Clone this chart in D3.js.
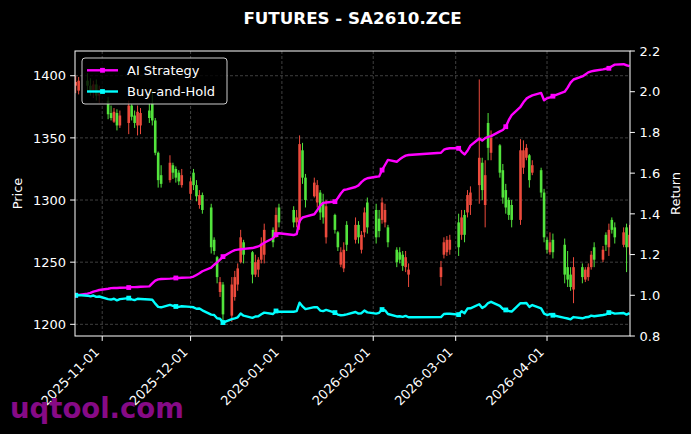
<!DOCTYPE html>
<html><head><meta charset="utf-8">
<script src="https://cdn.jsdelivr.net/npm/d3@7"></script>
<style>body{margin:0;background:#000}svg{display:block}text{font-family:"DejaVu Sans",sans-serif}</style>
</head><body><svg id="c" width="691" height="434"></svg>
<script>
const dates = ["2025-10-23","2025-10-24","2025-10-27","2025-10-28","2025-10-29","2025-10-30","2025-10-31","2025-11-03","2025-11-04","2025-11-05","2025-11-06","2025-11-07","2025-11-10","2025-11-11","2025-11-12","2025-11-13","2025-11-14","2025-11-17","2025-11-18","2025-11-19","2025-11-20","2025-11-21","2025-11-24","2025-11-25","2025-11-26","2025-11-27","2025-11-28","2025-12-01","2025-12-02","2025-12-03","2025-12-04","2025-12-05","2025-12-08","2025-12-09","2025-12-10","2025-12-11","2025-12-12","2025-12-15","2025-12-16","2025-12-17","2025-12-18","2025-12-19","2025-12-22","2025-12-23","2025-12-24","2025-12-25","2025-12-26","2025-12-29","2025-12-30","2025-12-31","2026-01-05","2026-01-06","2026-01-07","2026-01-08","2026-01-09","2026-01-12","2026-01-13","2026-01-14","2026-01-15","2026-01-16","2026-01-19","2026-01-20","2026-01-21","2026-01-22","2026-01-23","2026-01-26","2026-01-27","2026-01-28","2026-01-29","2026-01-30","2026-02-02","2026-02-03","2026-02-04","2026-02-05","2026-02-06","2026-02-09","2026-02-10","2026-02-11","2026-02-12","2026-02-13","2026-02-24","2026-02-25","2026-02-26","2026-02-27","2026-03-02","2026-03-03","2026-03-04","2026-03-05","2026-03-06","2026-03-09","2026-03-10","2026-03-11","2026-03-12","2026-03-13","2026-03-16","2026-03-17","2026-03-18","2026-03-19","2026-03-20","2026-03-23","2026-03-24","2026-03-25","2026-03-26","2026-03-27","2026-03-30","2026-03-31","2026-04-01","2026-04-02","2026-04-03","2026-04-07","2026-04-08","2026-04-09","2026-04-10","2026-04-13","2026-04-14","2026-04-15","2026-04-16","2026-04-17","2026-04-20","2026-04-21","2026-04-22","2026-04-23","2026-04-24","2026-04-27","2026-04-28","2026-04-29"];

const open = [1392,1388,1396,1392,1388,1393,1384,
1380,1370,1363,1370,1360,1362,1376,1368,1360,1360,1372,1378,1364,1338,1320,1316,1328,1325,1322,1312,
1305,1322,1312,1296,1304,1294,1268,1254,1226,1232,1207,1222,1232,1250,1266,1258,1240,1244,1252,1256,1276,1270,1294,
1292,1282,1282,1340,1318,1303,1298,1306,1298,1270,1288,1274,1248,1245,1280,1268,1280,1260,1274,1298,
1292,1285,1284,1282,1278,1260,1258,1256,1246,1240,1238,1256,1258,1260,
1282,1272,1288,1290,1296,1312,1330,1296,1362,1338,1344,1324,1308,1300,1296,1284,1326,1334,1336,1322,1324,1306,
1268,1258,1268,1264,1246,1240,1228,1246,1236,1238,1246,1262,1252,1272,1262,1284,1278,1264,1278,1262];

const high = [1400,1399,1402,1398,1396,1397,1392,
1383,1376,1374,1373,1372,1380,1377,1372,1376,1374,1378,1388,1366,1339,1328,1336,1330,1327,1324,1325,
1318,1325,1316,1308,1306,1297,1270,1255,1238,1234,1238,1243,1249,1276,1268,1259,1256,1254,1270,1281,1278,1294,1297,
1295,1292,1352,1346,1321,1318,1316,1308,1305,1300,1289,1275,1262,1266,1283,1286,1283,1275,1294,1302,
1297,1292,1302,1297,1280,1262,1262,1259,1259,1249,1251,1270,1271,1272,
1289,1292,1292,1308,1311,1397,1334,1332,1370,1356,1345,1329,1313,1302,1300,1349,1348,1345,1337,1332,1326,1309,
1270,1274,1273,1269,1259,1246,1254,1249,1246,1249,1259,1266,1263,1274,1281,1286,1282,1278,1281,1280];

const low = [1386,1385,1388,1384,1382,1380,1378,
1365,1364,1362,1356,1358,1353,1364,1358,1352,1353,1362,1360,1336,1310,1310,1314,1317,1314,1312,1310,
1300,1308,1299,1293,1289,1257,1256,1233,1222,1202,1202,1219,1227,1249,1249,1233,1238,1238,1249,1249,1262,1270,1278,
1278,1278,1276,1313,1294,1302,1294,1284,1281,1265,1273,1259,1246,1242,1259,1265,1265,1257,1270,1273,
1265,1270,1281,1278,1262,1246,1249,1243,1242,1230,1231,1253,1255,1256,
1255,1268,1266,1286,1288,1297,1300,1278,1332,1332,1318,1297,1289,1284,1278,1280,1321,1332,1310,1320,1302,1266,
1257,1256,1253,1233,1230,1227,1217,1233,1234,1235,1244,1246,1250,1259,1255,1273,1265,1262,1242,1256];

const close = [1395,1396,1392,1388,1393,1384,1386,
1369,1366,1371,1360,1368,1376,1367,1362,1371,1370,1366,1364,1338,1316,1313,1330,1322,1318,1315,1320,
1315,1312,1303,1304,1292,1262,1259,1238,1234,1208,1232,1238,1245,1270,1256,1240,1250,1252,1265,1276,1266,1288,1282,
1282,1286,1345,1318,1300,1314,1312,1290,1286,1295,1276,1262,1258,1260,1264,1280,1270,1272,1290,1278,
1270,1275,1298,1292,1266,1250,1252,1247,1254,1244,1246,1266,1268,1268,
1262,1286,1272,1304,1306,1334,1308,1320,1342,1350,1322,1302,1294,1288,1284,1340,1340,1342,1316,1328,1306,1270,
1260,1266,1258,1240,1236,1230,1246,1238,1244,1246,1256,1252,1260,1264,1276,1276,1270,1274,1262,1272];

const aiStrategy = [1.000,1.002,1.008,1.012,1.018,1.022,1.026,
1.032,1.035,1.036,1.036,1.037,1.038,1.040,1.040,1.041,1.042,1.044,1.058,1.072,1.078,1.080,1.082,1.083,1.085,1.085,1.086,
1.088,1.092,1.100,1.108,1.118,1.136,1.150,1.162,1.175,1.190,1.215,1.222,1.224,1.226,1.228,1.232,1.236,1.240,1.248,1.258,1.280,1.298,1.305,
1.296,1.300,1.365,1.382,1.386,1.398,1.418,1.440,1.454,1.456,1.460,1.478,1.500,1.517,1.520,1.532,1.540,1.556,1.568,1.575,
1.582,1.584,1.615,1.640,1.665,1.656,1.668,1.678,1.686,1.689,1.700,1.715,1.720,1.722,
1.722,1.705,1.692,1.710,1.735,1.770,1.760,1.772,1.778,1.782,1.805,1.812,1.828,1.860,1.885,1.926,1.948,1.966,1.975,1.982,1.994,1.958,
1.968,1.972,1.978,2.000,2.020,2.045,2.060,2.075,2.085,2.095,2.100,2.103,2.110,2.113,2.115,2.125,2.133,2.135,2.130,2.126];

const buyHold = [1.000,1.001,0.998,0.995,0.999,0.992,0.994,
0.981,0.979,0.983,0.975,0.981,0.986,0.980,0.976,0.983,0.982,0.979,0.978,0.959,0.943,0.941,0.953,0.948,0.945,0.943,0.946,
0.943,0.941,0.934,0.935,0.926,0.905,0.903,0.887,0.885,0.866,0.883,0.887,0.892,0.910,0.900,0.889,0.896,0.897,0.907,0.915,0.908,0.923,0.919,
0.919,0.922,0.964,0.945,0.932,0.942,0.941,0.925,0.922,0.928,0.915,0.905,0.902,0.903,0.906,0.918,0.910,0.912,0.925,0.916,
0.910,0.914,0.930,0.926,0.908,0.896,0.897,0.894,0.899,0.892,0.893,0.908,0.909,0.909,
0.905,0.922,0.912,0.935,0.936,0.956,0.938,0.946,0.962,0.968,0.948,0.933,0.928,0.923,0.920,0.961,0.961,0.962,0.943,0.952,0.936,0.910,
0.903,0.908,0.902,0.889,0.886,0.882,0.893,0.887,0.892,0.893,0.900,0.897,0.903,0.906,0.915,0.915,0.910,0.913,0.905,0.912];

const priceTicks = [1200,1250,1300,1350,1400];
const returnTicks = [0.8,1.0,1.2,1.4,1.6,1.8,2.0,2.2];
const dateTicks = ["2025-11-01","2025-12-01","2026-01-01","2026-02-01","2026-03-01","2026-04-01"];
const seriesNames = ["AI Strategy","Buy-and-Hold"];
const title = "FUTURES - SA2610.ZCE";

const W=691,H=434, L=75, R=630, T=51, B=336;
const parse = d3.utcParse("%Y-%m-%d");
const dts = dates.map(parse);
const svg = d3.select("#c");
svg.append("rect").attr("width",W).attr("height",H).attr("fill","#000");

const x = d3.scaleUtc().domain([dts[0], dts[dts.length-1]]).range([75.7, 629.5]);
const yP = d3.scaleLinear().domain([1190.6,1419.9]).range([B,T]);
const yR = d3.scaleLinear().domain([0.8,2.2]).range([B,T]);

svg.append("defs").append("clipPath").attr("id","clip").append("rect")
  .attr("x",L).attr("y",T).attr("width",R-L).attr("height",B-T);

// grid
const grid = svg.append("g").attr("stroke","#5a5a5a").attr("stroke-width",0.7).attr("stroke-dasharray","3,2");
dateTicks.map(parse).forEach(d=>{
  grid.append("line").attr("x1",x(d)).attr("x2",x(d)).attr("y1",T).attr("y2",B);
});
priceTicks.forEach(p=>{
  grid.append("line").attr("x1",L).attr("x2",R).attr("y1",yP(p)).attr("y2",yP(p));
});

// candles
const UP="#ec4a3c", DN="#52e33c";
const cg = svg.append("g").attr("clip-path","url(#clip)");
dts.forEach((d,i)=>{
  const col = close[i]>=open[i]?UP:DN;
  const cx = x(d);
  cg.append("line").attr("x1",cx).attr("x2",cx).attr("y1",yP(high[i])).attr("y2",yP(low[i]))
    .attr("stroke",col).attr("stroke-width",1);
  const y1 = yP(Math.max(open[i],close[i])), y2 = yP(Math.min(open[i],close[i]));
  cg.append("rect").attr("x",cx-1.3).attr("width",2.6).attr("y",y1).attr("height",Math.max(1,y2-y1)).attr("fill",col);
});

// lines
const lg = svg.append("g").attr("clip-path","url(#clip)");
function drawSeries(vals,color){
  const line = d3.line().x((v,i)=>x(dts[i])).y(v=>yR(v));
  lg.append("path").datum(vals).attr("d",line).attr("fill","none").attr("stroke",color)
    .attr("stroke-width",2.4).attr("stroke-linejoin","round");
  vals.forEach((v,i)=>{
    if(i%12===0) lg.append("rect").attr("x",x(dts[i])-2.4).attr("y",yR(v)-2.4).attr("width",4.8).attr("height",4.8).attr("fill",color);
  });
}
drawSeries(aiStrategy,"#ff00ff");
drawSeries(buyHold,"#00ffff");

// frame
svg.append("rect").attr("x",L).attr("y",T).attr("width",R-L).attr("height",B-T)
  .attr("fill","none").attr("stroke","#fff").attr("stroke-width",1);

// axes
const fs=13;
const ax = svg.append("g").attr("fill","#fff").attr("font-size",fs);
priceTicks.forEach(p=>{
  svg.append("line").attr("x1",L-4.9).attr("x2",L).attr("y1",yP(p)).attr("y2",yP(p)).attr("stroke","#fff");
  ax.append("text").attr("x",L-9).attr("y",yP(p)).attr("dy","0.36em").attr("text-anchor","end").text(p);
});
returnTicks.forEach(r=>{
  svg.append("line").attr("x1",R).attr("x2",R+4.9).attr("y1",yR(r)).attr("y2",yR(r)).attr("stroke","#fff");
  ax.append("text").attr("x",R+9.5).attr("y",yR(r)).attr("dy","0.36em").attr("text-anchor","start").text(r.toFixed(1));
});
dateTicks.forEach(s=>{
  const px = x(parse(s));
  svg.append("line").attr("x1",px).attr("x2",px).attr("y1",B).attr("y2",B+4.9).attr("stroke","#fff");
  ax.append("text").attr("transform",`translate(${px-2.1},${352.8}) rotate(-45)`).attr("text-anchor","end").text(s);
});
ax.append("text").attr("transform",`translate(22,${(T+B)/2}) rotate(-90)`).attr("text-anchor","middle").text("Price");
ax.append("text").attr("transform",`translate(680,${(T+B)/2}) rotate(-90)`).attr("text-anchor","middle").text("Return");

// title
svg.append("text").attr("x",(L+R)/2).attr("y",24).attr("text-anchor","middle").attr("fill","#fff")
  .attr("font-size",16.7).attr("font-weight","bold").text(title);

// legend
const leg = svg.append("g");
leg.append("rect").attr("x",82).attr("y",58).attr("width",145).attr("height",46).attr("rx",3)
  .attr("fill","#000").attr("fill-opacity",0.8).attr("stroke","#cccccc").attr("stroke-width",1);
[["#ff00ff",70.3],["#00ffff",91.5]].forEach(([c,yy],k)=>{
  leg.append("line").attr("x1",87).attr("x2",118).attr("y1",yy).attr("y2",yy).attr("stroke",c).attr("stroke-width",2.4);
  leg.append("rect").attr("x",102.5-2.4).attr("y",yy-2.4).attr("width",4.8).attr("height",4.8).attr("fill",c);
  leg.append("text").attr("x",127).attr("y",yy).attr("dy","0.36em").attr("fill","#fff").attr("font-size",13).text(seriesNames[k]);
});

// watermark
svg.append("text").attr("x",10).attr("y",418).attr("fill","#860a86").attr("font-size",27.5).attr("font-weight","bold").text("uqtool.com");
</script></body></html>
